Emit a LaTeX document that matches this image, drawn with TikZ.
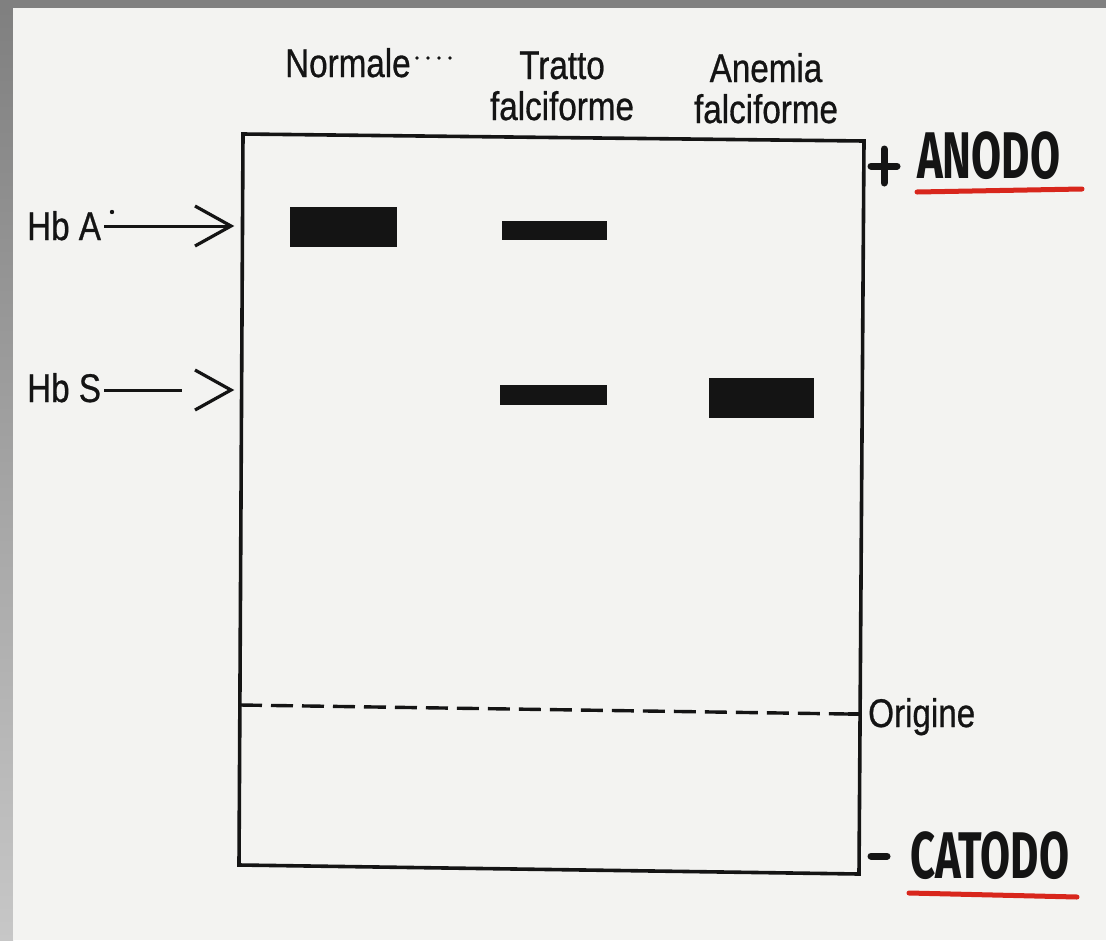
\documentclass[tikz,border=0pt]{standalone}
\usepackage{fontspec}
\newfontfamily\hv[FakeStretch=0.83,FakeBold=0.7]{Liberation Sans}
\newfontfamily\hand[FakeStretch=0.66]{Fira Sans}
\usetikzlibrary{calc}
\definecolor{paper}{HTML}{F3F3F1}
\definecolor{frame}{HTML}{808080}
\definecolor{ink}{HTML}{141414}
\definecolor{redline}{HTML}{D8261C}
\tikzset{
  lbl/.style={font=\hv\fontsize{40}{40}\selectfont, text=ink, inner sep=0pt},
  handlbl/.style={font=\hand\bfseries\fontsize{66}{66}\selectfont, text=ink, inner sep=0pt},
  band/.style={fill=ink, draw=none},
  gel/.style={draw=ink, line width=3.6pt, line join=miter},
  pointer/.style={draw=ink, line width=3pt},
  chevron/.style={draw=ink, line width=3.2pt, line join=miter},
  underline/.style={draw=redline, line width=5pt, line cap=round},
  electrode/.style={draw=ink, line width=7pt, line cap=round},
}
\begin{document}
\begin{tikzpicture}[x=1pt,y=-1pt]
\useasboundingbox (0,0) rectangle (1106,940);
% background: scanned page with grey border
\fill[frame] (0,0) rectangle (1106,940);
\shade[top color=frame, bottom color=black!22] (0,8) rectangle (13,940);
\fill[paper] (13,8) rectangle (1106,940);

% gel box (slightly skewed as in the scan)
\coordinate (tl) at (243,134);
\coordinate (tr) at (864,141);
\coordinate (br) at (859,874);
\coordinate (bl) at (239,865);
\draw[gel] (tl) -- (tr) -- (br) -- (bl) -- cycle;

% origin line
\coordinate (o1) at (240,705);
\coordinate (o2) at (848,714);
\coordinate (o3) at (861,714);
\draw[ink, line width=3.4pt, dash pattern=on 22pt off 9pt] (o1) -- (o2);
\draw[ink, line width=3.4pt] (o2) -- (o3);
\node[lbl, anchor=base west] (orig) at (868,727) {Origine};

% column headings
\node[lbl, anchor=base west] (norm) at (285,77) {Normale};
\foreach \xx in {417,428,439,450} \fill[ink] (\xx,58) circle (1.8pt);
\node[lbl, anchor=base] (tratto) at (562,79) {Tratto};
\node[lbl, anchor=base] (tratto2) at (562,120) {falciforme};
\node[lbl, anchor=base] (anemia) at (766,82) {Anemia};
\node[lbl, anchor=base] (anemia2) at (766,123) {falciforme};

% bands
\fill[band] (290,207) rectangle (397,247);
\fill[band] (502,221) rectangle (607,240);
\fill[band] (500,385) rectangle (607,405);
\fill[band] (709,378) rectangle (814,418);

% Hb labels and pointers
\node[lbl, anchor=base west] (hba) at (27,240) {Hb A};
\fill[ink] (112,212) circle (2.2pt);
\node[lbl, anchor=base west] (hbs) at (27,402) {Hb S};
\coordinate (ta) at (231,226);
\coordinate (ts) at (231,390);
\coordinate (sa) at (104,226);
\coordinate (ss) at (104,390);
\coordinate (se) at (182,390);
\draw[pointer] (sa) -- (ta);
\draw[chevron] ($(ta)+(-36,-20)$) -- (ta) -- ($(ta)+(-36,20)$);
\draw[pointer] (ss) -- (se);
\draw[chevron] ($(ts)+(-36,-20)$) -- (ts) -- ($(ts)+(-36,20)$);

% electrodes
\coordinate (pc) at (884,166);
\draw[electrode] ($(pc)+(-13,0)$) -- ($(pc)+(13,0)$);
\draw[electrode] ($(pc)+(0,-17)$) -- ($(pc)+(0,17)$);
\node[handlbl, anchor=base west] (anodo) at (917,178) {ANODO};
\draw[underline] (917,192) -- (1082,189);
\coordinate (mc) at (879,856);
\draw[electrode] ($(mc)+(-8,0)$) -- ($(mc)+(8,0)$);
\node[handlbl, anchor=base west] (catodo) at (910,878) {CATODO};
\draw[underline] (909,893) -- (1077,897);
\end{tikzpicture}
\end{document}
